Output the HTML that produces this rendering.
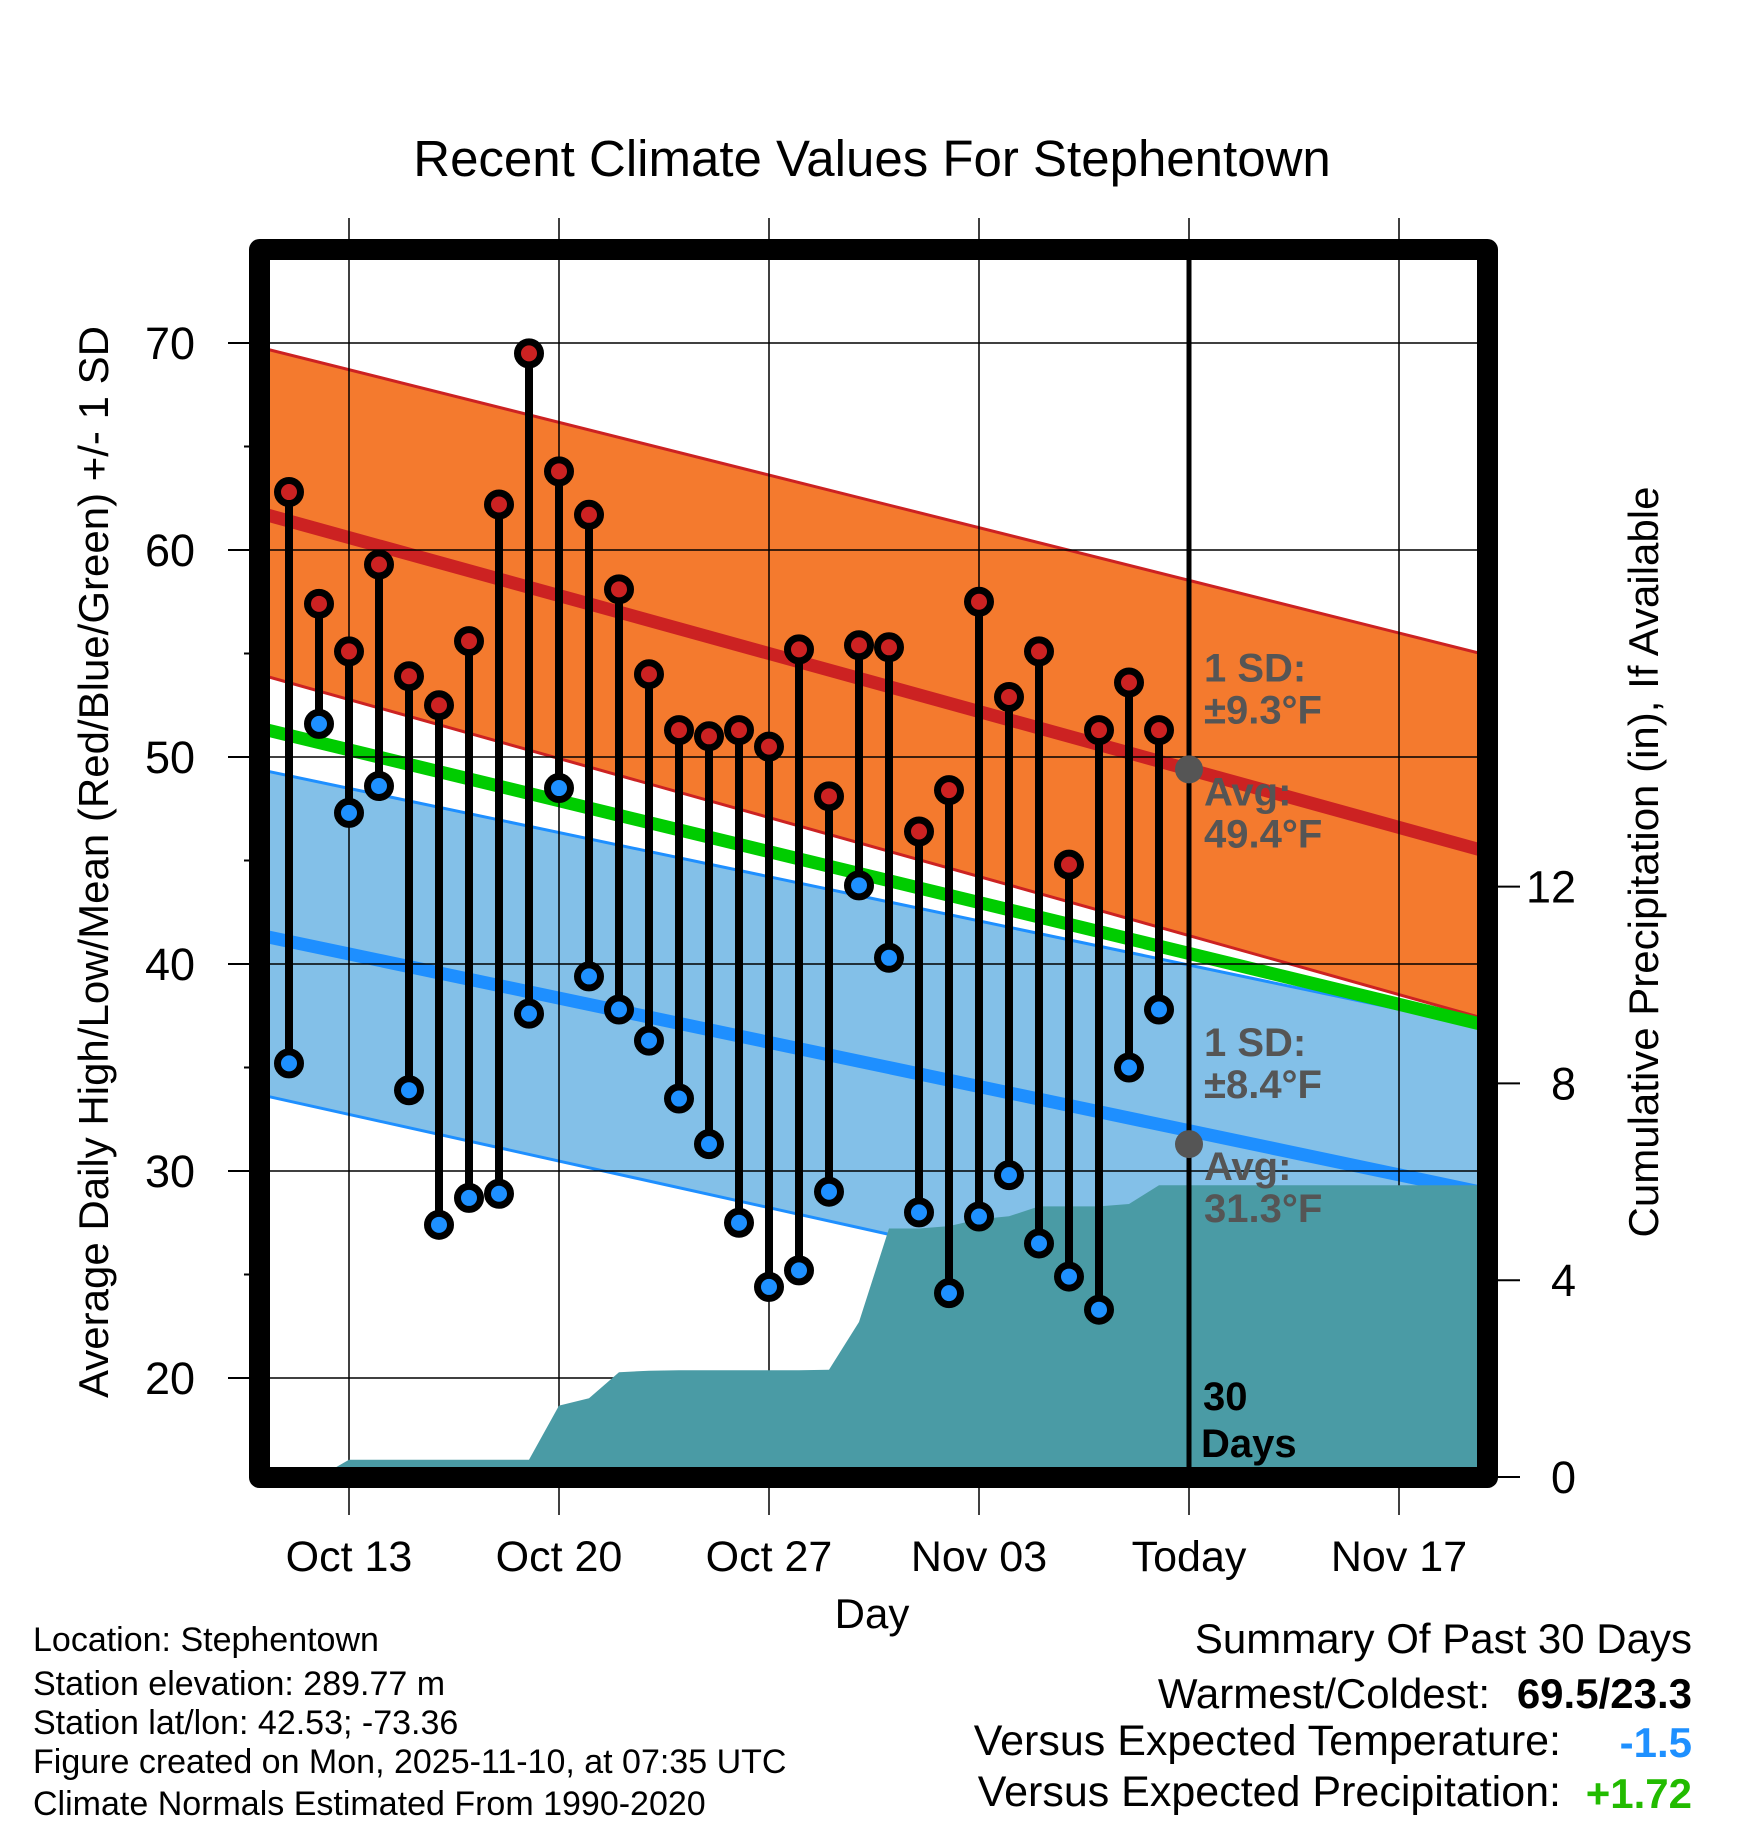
<!DOCTYPE html>
<html><head><meta charset="utf-8"><style>
html,body{margin:0;padding:0;background:#fff}
svg{display:block;font-family:"Liberation Sans",sans-serif}
</style></head><body>
<svg id="chart" width="1748" height="1828" viewBox="0 0 1748 1828" xmlns="http://www.w3.org/2000/svg">
<defs><clipPath id="plotclip"><rect x="270" y="260" width="1208" height="1208"/></clipPath></defs>
<text x="872" y="176" text-anchor="middle" font-size="51">Recent Climate Values For Stephentown</text>
<g id="bands" clip-path="url(#plotclip)"></g>
<g id="grid"></g>
<g id="precip" clip-path="url(#plotclip)"></g>
<g id="marks"></g>
<g id="axes"></g>
<text transform="translate(108,862) rotate(-90)" text-anchor="middle" font-size="42">Average Daily High/Low/Mean (Red/Blue/Green) +/- 1 SD</text>
<text transform="translate(1658,862) rotate(-90)" text-anchor="middle" font-size="42">Cumulative Precipitation (in), If Available</text>
<text x="872" y="1628" text-anchor="middle" font-size="42">Day</text>
<g font-size="34">
<text x="33" y="1651">Location: Stephentown</text>
<text x="33" y="1695">Station elevation: 289.77 m</text>
<text x="33" y="1734">Station lat/lon: 42.53; -73.36</text>
<text x="33" y="1773">Figure created on Mon, 2025-11-10, at 07:35 UTC</text>
<text x="33" y="1815">Climate Normals Estimated From 1990-2020</text>
</g>
<g font-size="42">
<text x="1692" y="1653" text-anchor="end">Summary Of Past 30 Days</text>
<text x="1490" y="1708" text-anchor="end">Warmest/Coldest:</text>
<text x="1692" y="1708" text-anchor="end" font-weight="bold">69.5/23.3</text>
<text x="1561" y="1755" text-anchor="end" font-size="43">Versus Expected Temperature:</text>
<text x="1692" y="1757" text-anchor="end" font-weight="bold" fill="#1E90FF">-1.5</text>
<text x="1561" y="1806" text-anchor="end" font-size="43">Versus Expected Precipitation:</text>
<text x="1692" y="1808" text-anchor="end" font-weight="bold" fill="#22BB00">+1.72</text>
</g>
</svg>
<script>
// days relative to Oct 13 (0); data from Oct 11 (day -2)
const highs = [62.8,57.4,55.1,59.3,53.9,52.5,55.6,62.2,69.5,63.8,61.7,58.1,54.0,51.3,51.0,51.3,50.5,55.2,48.1,55.4,55.3,46.4,48.4,57.5,52.9,55.1,44.8,51.3,53.6,51.3];
const lows = [35.2,51.6,47.3,48.6,33.9,27.4,28.7,28.9,37.6,48.5,39.4,37.8,36.3,33.5,31.3,27.5,24.4,25.2,29.0,43.8,40.3,28.0,24.1,27.8,29.8,26.5,24.9,23.3,35.0,37.8];
const precipCum = [0,0,0.35,0.35,0.35,0.35,0.35,0.35,0.35,1.45,1.6,2.13,2.16,2.17,2.17,2.17,2.17,2.17,2.18,3.15,5.05,5.05,5.1,5.24,5.3,5.5,5.5,5.5,5.55,5.93];
const normalDays = [-3, 38];
const highMean = [61.8, 45.4];
const highUpper = [69.8, 54.9];
const highLower = [54.0, 37.3];
const meanNormal = [51.4, 37.0];
const lowUpper = [49.4, 36.9];
const lowMean = [41.4, 28.9];
const lowLower = [33.7, 20.5];
const todayDay = 28;
const todayHigh = 49.4, todayLow = 31.3;
const xTickDays = [0,7,14,21,28,35];
const xTickLabels = ["Oct 13","Oct 20","Oct 27","Nov 03","Today","Nov 17"];
const yTicks = [20,30,40,50,60,70];
const yMinor = [25,35,45,55,65];
const pTicks = [0,4,8,12];
const firstDay = -2;

const NS="http://www.w3.org/2000/svg";
const X0=270,X1=1478,Y0=260,Y1=1468;
const xs=d=>349+30*d;
const ys=t=>343+(70-t)*20.7;
const ps=p=>1477-49.2*p;
function mk(tag,parent,attrs){const e=document.createElementNS(NS,tag);for(const k in attrs)e.setAttribute(k,attrs[k]);parent.appendChild(e);return e;}
const bands=document.getElementById('bands'),grid=document.getElementById('grid'),precip=document.getElementById('precip'),marks=document.getElementById('marks'),axes=document.getElementById('axes');

function bandPoly(up,lo,fill,name){
  const pts=[[xs(normalDays[0]),ys(up[0])],[xs(normalDays[1]),ys(up[1])],[xs(normalDays[1]),ys(lo[1])],[xs(normalDays[0]),ys(lo[0])]].map(p=>p.join(',')).join(' ');
  const e=mk('polygon',bands,{points:pts,fill:fill});
  
  
}
function nline(v,color,w,name){
  const e=mk('line',bands,{x1:xs(normalDays[0]),y1:ys(v[0]),x2:xs(normalDays[1]),y2:ys(v[1]),stroke:color,'stroke-width':w});
  
  
}
bandPoly(lowUpper,lowLower,'#83C0E8','low-sd-band');
bandPoly(highUpper,highLower,'#F47A2E','high-sd-band');
nline(lowUpper,'#1E8FFF',3,'low-sd-upper-line');
nline(lowLower,'#1E8FFF',3,'low-sd-lower-line');
nline(highUpper,'#CC2222',3,'high-sd-upper-line');
nline(highLower,'#CC2222',3,'high-sd-lower-line');
nline(meanNormal,'#00CC00',13,'normal-mean-line');
nline(highMean,'#CC2222',13,'normal-high-line');
nline(lowMean,'#1E8FFF',13,'normal-low-line');

// grid
yTicks.forEach(t=>{
  const e=mk('line',grid,{x1:X0,x2:X1,y1:ys(t),y2:ys(t),stroke:'#000','stroke-width':1.5});
  
  
});
xTickDays.forEach(d=>{
  const e=mk('line',grid,{x1:xs(d),x2:xs(d),y1:218,y2:1515,stroke:'#000','stroke-width':1.5});
  
  
});

// precip
let pts=[[X0,Y1+20],[X0,ps(precipCum[0])]];
precipCum.forEach((p,i)=>pts.push([xs(firstDay+i),ps(p)]));
pts.push([X1,ps(precipCum[precipCum.length-1])],[X1,Y1+20]);
const pa=mk('polygon',precip,{points:pts.map(p=>p.join(',')).join(' '),fill:'#4A9BA5'});



// today line
const tl=mk('line',marks,{x1:xs(todayDay),x2:xs(todayDay),y1:Y0,y2:Y1,stroke:'#000','stroke-width':5});



// stems and markers
highs.forEach((h,i)=>{
  const x=xs(firstDay+i);
  const s=mk('line',marks,{x1:x,x2:x,y1:ys(h),y2:ys(lows[i]),stroke:'#000','stroke-width':8});
  
  
});
highs.forEach((h,i)=>{
  const x=xs(firstDay+i);
  const a=mk('circle',marks,{cx:x,cy:ys(h),r:11.5,fill:'#CC2222',stroke:'#000','stroke-width':7});
  
  
  const b=mk('circle',marks,{cx:x,cy:ys(lows[i]),r:11.5,fill:'#1E90FF',stroke:'#000','stroke-width':7});
  
  
});
// today dots
[todayHigh,todayLow].forEach(v=>{
  const c=mk('circle',marks,{cx:xs(todayDay),cy:ys(v),r:14,fill:'#555'});
  
  
});
// labels
function lab(txt,x,y,col,name){
  const t=mk('text',marks,{x:x,y:y,'font-size':40,'font-weight':'bold',fill:col});
  t.textContent=txt;
  
  
}
const lx=xs(todayDay)+15;
lab('1 SD:',lx,ys(todayHigh)-88,'#555','high-sd-label');
lab('±9.3°F',lx,ys(todayHigh)-46,'#555','high-sd-value');
lab('Avg:',lx,ys(todayHigh)+36,'#555','high-avg-label');
lab(todayHigh.toFixed(1)+'°F',lx,ys(todayHigh)+78,'#555','high-avg-value');
lab('1 SD:',lx,ys(todayLow)-88,'#555','low-sd-label');
lab('±8.4°F',lx,ys(todayLow)-46,'#555','low-sd-value');
lab('Avg:',lx,ys(todayLow)+36,'#555','low-avg-label');
lab(todayLow.toFixed(1)+'°F',lx,ys(todayLow)+78,'#555','low-avg-value');
lab('30',lx-1,1410,'#000','days-label-number');
lab('Days',lx-3,1457,'#000','days-label-text');

// frame
const fr=mk('rect',axes,{x:259.5,y:249.5,width:1228,height:1228,fill:'none',stroke:'#000','stroke-width':21,'stroke-linejoin':'round'});


// y ticks
yTicks.forEach(t=>{
  const e=mk('line',axes,{x1:228,x2:250,y1:ys(t),y2:ys(t),stroke:'#000','stroke-width':2});
  
  
  const l=mk('text',axes,{x:195,y:ys(t)+16,'text-anchor':'end','font-size':45});
  l.textContent=t;
  
  
});
yMinor.forEach(t=>{
  const e=mk('line',axes,{x1:244,x2:250,y1:ys(t),y2:ys(t),stroke:'#000','stroke-width':2});
  
  
});
xTickDays.forEach((d,i)=>{
  const l=mk('text',axes,{x:xs(d),y:1571,'text-anchor':'middle','font-size':43});
  l.textContent=xTickLabels[i];
  
  
});
pTicks.forEach(p=>{
  const e=mk('line',axes,{x1:1497,x2:1520,y1:ps(p),y2:ps(p),stroke:'#000','stroke-width':2});
  
  
  const l=mk('text',axes,{x:1576,y:ps(p)+16,'text-anchor':'end','font-size':45});
  l.textContent=p;
  
  
});
</script>
</body></html>
